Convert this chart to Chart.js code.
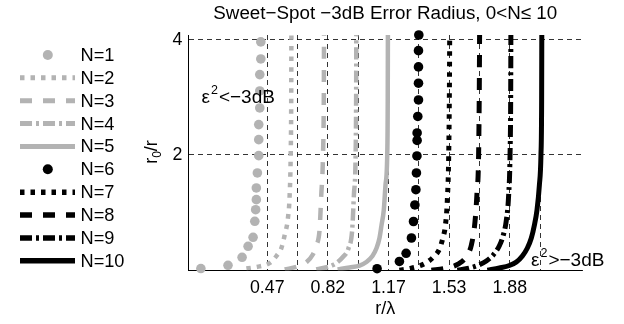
<!DOCTYPE html>
<html><head><meta charset="utf-8">
<script src="https://cdn.jsdelivr.net/npm/chart.js@4.4.0/dist/chart.umd.min.js"></script>
<style>html,body{margin:0;padding:0;background:#fff;}#wrap{width:624px;height:324px;}</style>
</head><body><div id="wrap"><canvas id="c" width="624" height="324"></canvas></div>
<script>
// ---- data ----
const seriesLabels = ['N=1','N=2','N=3','N=4','N=5','N=6','N=7','N=8','N=9','N=10'];
const xN1 = [0.084,0.242,0.324,0.359,0.388,0.398,0.403,0.407,0.407,0.413,0.421,0.421,0.421,0.427,0.427,0.427,0.433,0.433];
const yN1 = [0.03,0.087,0.225,0.416,0.572,0.85,1.051,1.225,1.428,1.688,1.988,2.265,2.526,2.815,3.11,3.393,3.665,3.96];
const xN2 = [0.349,0.427,0.485,0.524,0.553,0.572,0.591,0.601,0.607,0.610,0.611,0.612];
const yN2 = [0.031,0.069,0.127,0.248,0.386,0.612,0.907,1.306,2.0,2.95,4.03,4.2];
const xN3 = [0.572,0.647,0.700,0.735,0.758,0.775,0.785,0.795,0.800,0.801,0.802];
const yN3 = [0.014,0.066,0.144,0.269,0.44,0.70,1.306,2.0,3.13,4.03,4.2];
const xN4 = [0.756,0.853,0.911,0.944,0.965,0.975,0.985,0.988,0.989,0.990];
const yN4 = [0.014,0.092,0.231,0.387,0.699,1.306,2.0,3.0,4.03,4.2];
const xN5 = [0.880,0.950,1.008,1.048,1.083,1.107,1.124,1.136,1.149,1.159,1.169,1.172,1.173];
const yN5 = [0.014,0.049,0.083,0.144,0.248,0.387,0.56,0.786,1.046,1.48,2.0,2.95,4.2];
const xN6 = [1.110,1.240,1.279,1.310,1.322,1.330,1.336,1.339,1.342,1.343,1.343,1.347,1.351,1.351,1.351,1.351,1.353];
const yN6 = [0.028,0.153,0.295,0.56,0.846,1.133,1.398,1.688,1.983,2.252,2.382,2.668,2.954,3.244,3.527,3.809,4.08];
const xN7 = [1.240,1.298,1.356,1.403,1.438,1.473,1.493,1.508,1.519,1.527,1.531,1.533];
const yN7 = [0,0.031,0.075,0.144,0.231,0.369,0.56,0.786,1.22,2.0,3.13,4.2];
const xN8 = [1.426,1.502,1.560,1.601,1.636,1.659,1.680,1.691,1.701,1.705,1.707];
const yN8 = [0,0.031,0.075,0.144,0.269,0.44,0.84,1.306,2.0,3.13,4.2];
const xN9 = [1.577,1.636,1.694,1.746,1.787,1.822,1.845,1.861,1.876,1.884,1.888,1.889];
const yN9 = [0,0.031,0.083,0.161,0.269,0.425,0.612,0.838,1.306,2.0,3.13,4.2];
const xN10 = [1.752,1.822,1.880,1.921,1.956,1.985,2.008,2.026,2.041,2.055,2.064,2.068,2.069];
const yN10 = [0,0.04,0.083,0.144,0.248,0.387,0.56,0.786,1.046,1.48,2.0,2.95,4.2];
const xTickValues = [0.4706,0.6471,0.8235,1.0,1.1765,1.3529,1.5294,1.7059,1.8824,2.0588];
const xTickLabels = ['0.47','','0.82','','1.17','','1.53','','1.88',''];
const yTickValues = [2,4];
const yTickLabels = ['2','4'];

const GREY = '#b3b3b3', BLACK = '#000000';
const FONT = 'Liberation Sans, Arial, sans-serif';
const toPts = (xs, ys) => xs.map((x, i) => ({x: x, y: ys[i]}));
const allX = [xN1,xN2,xN3,xN4,xN5,xN6,xN7,xN8,xN9,xN10];
const allY = [yN1,yN2,yN3,yN4,yN5,yN6,yN7,yN8,yN9,yN10];
const styles = [
  {c: GREY, marker: true},
  {c: GREY, dash: [4.5, 6], w: 4.5},
  {c: GREY, dash: [12, 11], w: 4.5},
  {c: GREY, dash: [12, 4, 3, 4], w: 4.5},
  {c: GREY, dash: [], w: 4.5},
  {c: BLACK, marker: true},
  {c: BLACK, dash: [4.5, 6], w: 5},
  {c: BLACK, dash: [12, 11], w: 5},
  {c: BLACK, dash: [12, 4, 3, 4], w: 5},
  {c: BLACK, dash: [], w: 5}
];
const datasets = seriesLabels.map((lab, i) => {
  const s = styles[i];
  if (s.marker) {
    return {label: lab, data: toPts(allX[i], allY[i]), showLine: false,
      pointRadius: 4.8, pointBackgroundColor: s.c, pointBorderColor: s.c, pointBorderWidth: 0,
      borderColor: s.c, backgroundColor: s.c, clip: false, _marker: true};
  }
  return {label: lab, data: toPts(allX[i], allY[i]), showLine: true, pointRadius: 0,
    borderColor: s.c, backgroundColor: s.c, borderWidth: s.w, borderDash: s.dash,
    cubicInterpolationMode: 'monotone', fill: false};
});

const decor = {
  id: 'decor',
  afterDraw(chart) {
    const ctx = chart.ctx, a = chart.chartArea;
    ctx.save();
    ctx.fillStyle = '#000';
    // title
    ctx.font = '18.8px ' + FONT;
    ctx.textAlign = 'center'; ctx.textBaseline = 'middle';
    ctx.fillText('Sweet\u2212Spot \u22123dB Error Radius, 0<N\u2264 10', (a.left + a.right) / 2, 14);
    // x title
    ctx.font = '18px ' + FONT;
    ctx.fillText('r/\u03bb', (a.left + a.right) / 2, 309);
    // y title (rotated) r_0/r
    ctx.save();
    ctx.translate(151, 152);
    ctx.rotate(-Math.PI / 2);
    ctx.textAlign = 'left'; ctx.textBaseline = 'alphabetic';
    const f1 = '18px ' + FONT, f2 = '12px ' + FONT;
    ctx.font = f1; const wr = ctx.measureText('r').width, ws = ctx.measureText('/r').width;
    ctx.font = f2; const w0 = ctx.measureText('0').width;
    let x0 = -(wr + w0 + ws) / 2;
    ctx.font = f1; ctx.fillText('r', x0, 6);
    ctx.font = f2; ctx.fillText('0', x0 + wr, 10);
    ctx.font = f1; ctx.fillText('/r', x0 + wr + w0, 6);
    ctx.restore();
    // annotations
    const ann = (x, base, rest) => {
      ctx.textAlign = 'left'; ctx.textBaseline = 'alphabetic';
      ctx.font = '19px ' + FONT; ctx.fillText('\u03b5', x, base);
      const we = ctx.measureText('\u03b5').width;
      ctx.font = '12.5px ' + FONT; ctx.fillText('2', x + we + 1, base - 9);
      const w2 = ctx.measureText('2').width;
      ctx.font = '19px ' + FONT; ctx.fillText(rest, x + we + w2 + 2, base);
    };
    ann(201.5, 103, '<\u22123dB');
    ann(531, 265.5, '>\u22123dB');
    // legend
    chart.data.datasets.forEach((ds, i) => {
      const y = 55 + i * 22.86;
      ctx.save();
      if (ds._marker) {
        ctx.fillStyle = ds.pointBackgroundColor;
        ctx.beginPath(); ctx.arc(47.8, y, 5, 0, Math.PI * 2); ctx.fill();
      } else {
        ctx.strokeStyle = ds.borderColor; ctx.lineWidth = ds.borderWidth + 0.5;
        ctx.setLineDash(ds.borderDash || []);
        ctx.beginPath(); ctx.moveTo(20, y); ctx.lineTo(75, y); ctx.stroke();
      }
      ctx.restore();
      ctx.fillStyle = '#000'; ctx.font = '18.2px ' + FONT;
      ctx.textAlign = 'left'; ctx.textBaseline = 'middle';
      ctx.fillText(ds.label, 80.5, y + 1);
    });
    ctx.restore();
  }
};

new Chart(document.getElementById('c'), {
  type: 'line',
  data: {datasets: datasets},
  options: {
    responsive: false, animation: false, devicePixelRatio: 1,
    layout: {padding: {left: 0, right: 42, top: 35, bottom: 0}},
    plugins: {legend: {display: false}, title: {display: false}, tooltip: {enabled: false}},
    elements: {line: {tension: 0}},
    scales: {
      x: {type: 'linear', min: 0.012, max: 2.303,
        afterFit(s) { s.height = 324 - 270.3; },
        afterBuildTicks(s) { s.ticks = xTickValues.map(v => ({value: v})); },
        ticks: {autoSkip: false, maxRotation: 0, padding: 7, color: '#000',
          font: {family: FONT, size: 17.8},
          callback: (v, i) => xTickLabels[i]},
        grid: {color: '#000', lineWidth: 0.8, drawTicks: false},
        border: {display: true, color: '#000', width: 1, dash: [5, 4]}
      },
      y: {type: 'linear', min: 0, max: 4.08,
        afterFit(s) { s.width = 188.5; },
        afterBuildTicks(s) { s.ticks = yTickValues.map(v => ({value: v})); },
        ticks: {padding: 6, color: '#000', font: {family: FONT, size: 17.8},
          callback: (v, i) => yTickLabels[i]},
        grid: {color: '#000', lineWidth: 0.8, drawTicks: false},
        border: {display: true, color: '#000', width: 1, dash: [5, 4]}
      }
    }
  },
  plugins: [decor]
});
</script></body></html>
